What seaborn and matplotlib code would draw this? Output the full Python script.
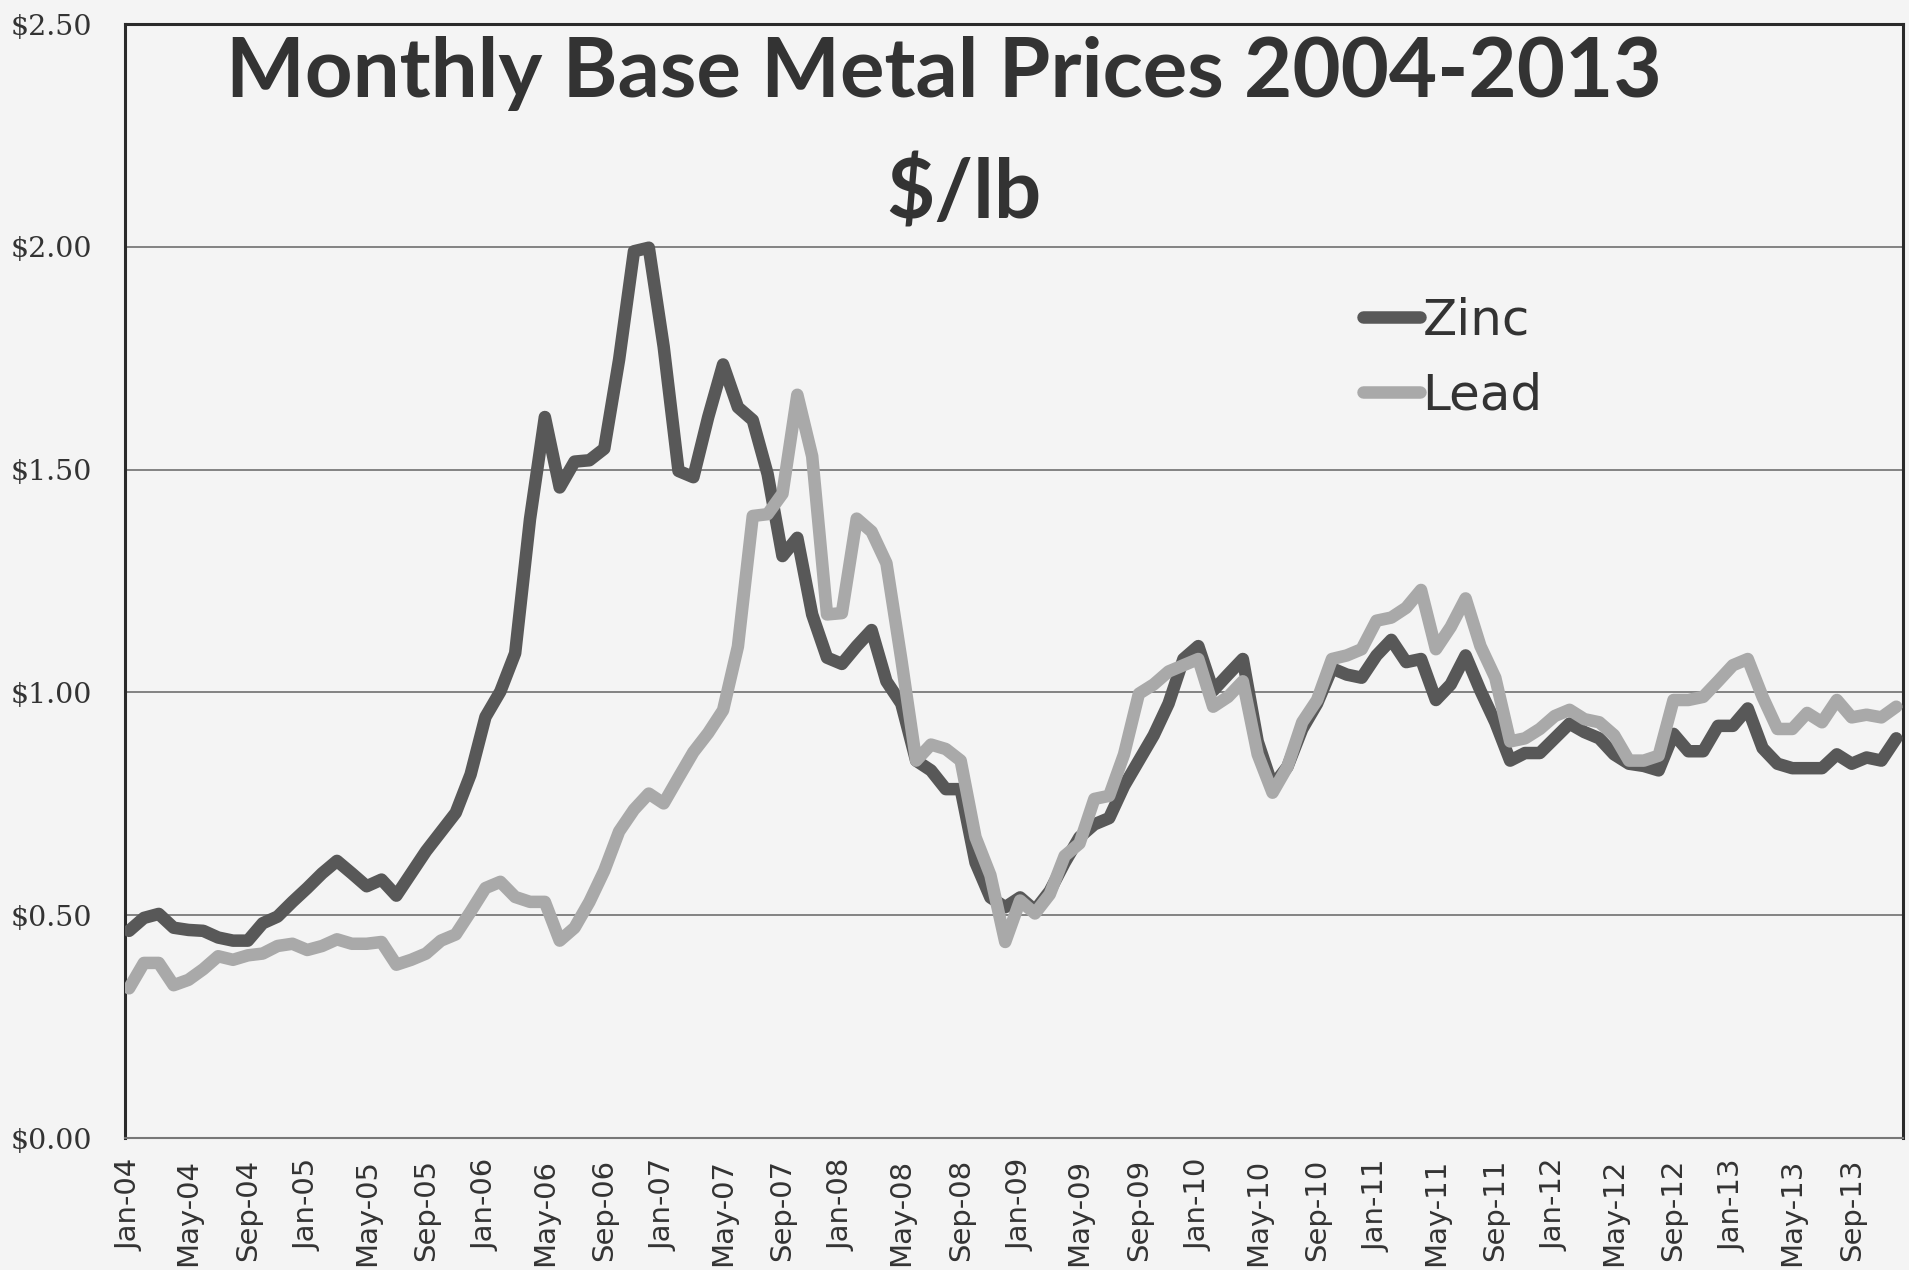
#!/usr/bin/env python3
# -*- coding: utf-8 -*-
"""
Monthly base metal prices 2004-2013 ($/lb), zinc vs lead
"""

import pandas as pd
import matplotlib.pyplot as plt
import seaborn as sns
from matplotlib.ticker import FuncFormatter

# monthly prices, Jan-04 .. Dec-13 ($/lb)
zinc = [
    0.465, 0.494, 0.503, 0.472, 0.467, 0.465, 0.450, 0.443, 0.443, 0.482, 0.497, 0.530,
    0.561, 0.594, 0.622, 0.594, 0.565, 0.580, 0.544, 0.594, 0.644, 0.687, 0.730, 0.816,
    0.945, 1.002, 1.088, 1.389, 1.618, 1.460, 1.518, 1.521, 1.547, 1.747, 1.990, 1.998,
    1.776, 1.497, 1.483, 1.618, 1.736, 1.640, 1.611, 1.490, 1.306, 1.347, 1.175, 1.078,
    1.064, 1.104, 1.140, 1.025, 0.975, 0.847, 0.825, 0.783, 0.783, 0.618, 0.540, 0.518,
    0.540, 0.511, 0.554, 0.618, 0.675, 0.704, 0.718, 0.790, 0.847, 0.904, 0.975, 1.075,
    1.104, 1.004, 1.040, 1.075, 0.890, 0.790, 0.833, 0.918, 0.975, 1.054, 1.040, 1.033,
    1.083, 1.118, 1.068, 1.075, 0.983, 1.018, 1.083, 1.004, 0.933, 0.847, 0.864, 0.864,
    0.897, 0.930, 0.911, 0.897, 0.861, 0.840, 0.835, 0.825, 0.907, 0.868, 0.868, 0.925,
    0.925, 0.964, 0.875, 0.840, 0.830, 0.830, 0.830, 0.861, 0.840, 0.854, 0.847, 0.897,
]
lead = [
    0.336, 0.393, 0.393, 0.343, 0.355, 0.379, 0.408, 0.400, 0.410, 0.414, 0.431, 0.436,
    0.422, 0.431, 0.446, 0.436, 0.436, 0.440, 0.389, 0.400, 0.414, 0.443, 0.457, 0.508,
    0.561, 0.575, 0.541, 0.530, 0.530, 0.443, 0.472, 0.530, 0.600, 0.688, 0.737, 0.773,
    0.751, 0.809, 0.866, 0.909, 0.960, 1.103, 1.396, 1.400, 1.446, 1.668, 1.530, 1.175,
    1.178, 1.390, 1.361, 1.290, 1.075, 0.847, 0.883, 0.873, 0.847, 0.675, 0.590, 0.440,
    0.533, 0.504, 0.547, 0.633, 0.661, 0.761, 0.768, 0.861, 0.997, 1.018, 1.047, 1.061,
    1.075, 0.968, 0.990, 1.025, 0.861, 0.775, 0.833, 0.933, 0.983, 1.075, 1.083, 1.097,
    1.161, 1.168, 1.190, 1.230, 1.097, 1.147, 1.211, 1.104, 1.033, 0.890, 0.897, 0.918,
    0.947, 0.961, 0.940, 0.933, 0.904, 0.847, 0.847, 0.858, 0.983, 0.983, 0.990, 1.025,
    1.061, 1.075, 0.990, 0.918, 0.918, 0.954, 0.933, 0.983, 0.944, 0.950, 0.944, 0.968,
]
months = pd.date_range('2004-01-01', periods=len(zinc), freq='MS').strftime('%b-%y').tolist()
series_names = ['Zinc', 'Lead']
series_colors = ['#585858', '#a9a9a9']
y_ticks = [0.0, 0.5, 1.0, 1.5, 2.0, 2.5]

title_text = 'Monthly Base Metal Prices 2004-2013'
subtitle_text = r'\$/lb'

BG = '#f4f4f4'
INK = '#333333'
LINE_W = 9.0

sns.set_style('white')
plt.rcParams['font.family'] = ['DejaVu Sans']

# long format for seaborn
df = pd.DataFrame({
    'idx': list(range(len(zinc))) * 2,
    'price': zinc + lead,
    'metal': ['Zinc'] * len(zinc) + ['Lead'] * len(lead),
})

fig = plt.figure(figsize=(19.09, 12.70), dpi=100, facecolor=BG)
ax = fig.add_axes([0.0655, 0.1039, 0.9314, 0.8772])
ax.set_facecolor(BG)

# grid first so the lines sit on top
for y in y_ticks[1:-1]:
    ax.axhline(y, color='#7a7a7a', lw=1.3, zorder=1)

sns.lineplot(data=df, x='idx', y='price', hue='metal', hue_order=series_names,
             palette=series_colors, sort=False, legend=False, ax=ax, zorder=3)
data_lines = ax.get_lines()[-2:]
for line in data_lines:
    line.set_linewidth(LINE_W)
    line.set_solid_joinstyle('round')
    line.set_solid_capstyle('round')

ax.set_xlim(-0.27, 119.46)
ax.set_ylim(0, 2.5)
ax.set_yticks(y_ticks)
ax.yaxis.set_major_formatter(FuncFormatter(lambda v, _: r'\$' + f'{v:.2f}'))
ax.set_xticks(range(0, len(months), 4))
ax.set_xticklabels(months[::4], rotation=90, fontsize=21, color=INK)
ax.tick_params(axis='x', length=0, pad=15)
ax.tick_params(axis='y', length=0, pad=24, labelsize=20.5, labelcolor=INK)
for lab in ax.get_yticklabels():
    lab.set_family('DejaVu Serif')
ax.set_xlabel('')
ax.set_ylabel('')

# frame
for side in ['left', 'top', 'right']:
    ax.spines[side].set_color('#2a2a2a')
    ax.spines[side].set_linewidth(2.2)
ax.spines['bottom'].set_color('#777777')
ax.spines['bottom'].set_linewidth(1.5)

# legend
leg = ax.legend(data_lines, series_names, loc='upper left', bbox_to_anchor=(0.696, 0.755),
                frameon=False, fontsize=36, handlelength=1.15, handletextpad=0.05,
                labelspacing=0.54, borderpad=0, borderaxespad=0)
for t in leg.get_texts():
    t.set_color(INK)

# title block
fig.text(0.4945, 0.9236, title_text, ha='center', va='baseline', fontsize=60,
         fontweight='bold', family=['Lato', 'DejaVu Sans'], color=INK)
fig.text(0.505, 0.8283, subtitle_text, ha='center', va='baseline', fontsize=60,
         fontweight='bold', family=['Lato', 'DejaVu Sans'], color=INK)

fig.savefig('out.png', dpi=100, facecolor=BG)
